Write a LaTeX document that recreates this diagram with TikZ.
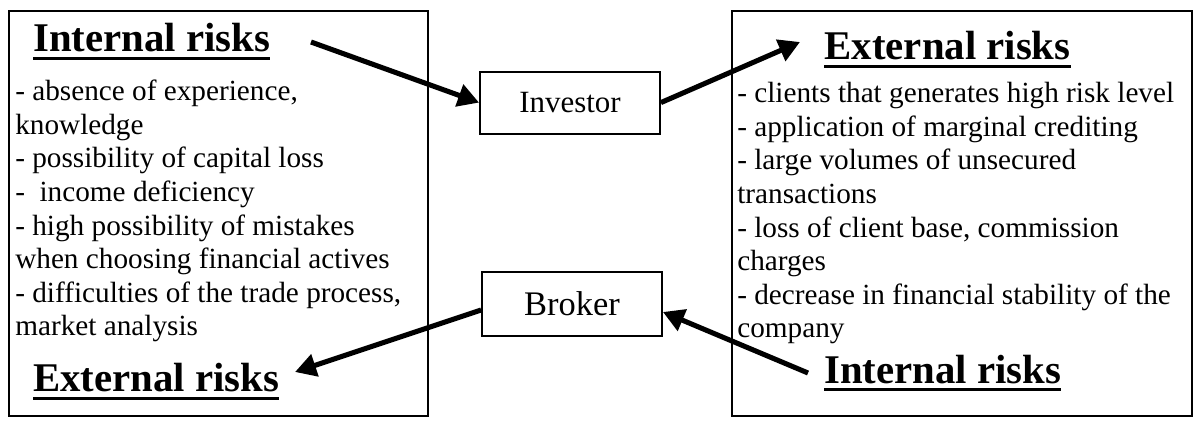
\documentclass[tikz,border=0pt]{standalone}
\usepackage{fontspec}
\setmainfont{Liberation Serif}
\usetikzlibrary{arrows.meta}
\tikzset{
  riskbox/.style={draw, line width=1.3pt},
  actor/.style={draw, line width=1.3pt, minimum width=4.5cm, minimum height=1.55cm},
  riskhead/.style={inner sep=0pt, anchor=base west, font=\fontsize{29}{34}\selectfont\bfseries},
  risklist/.style={inner sep=0pt, anchor=north west, align=left, font=\fontsize{20.8}{23.9}\selectfont},
  uline/.style={line width=2.2pt},
  link/.style={line width=3.6pt, -{Triangle[length=15pt,width=16pt]}}
}
\begin{document}
\begin{tikzpicture}
\useasboundingbox (0,0) rectangle (30,10.675);
\draw[riskbox] (0.225,0.275) rectangle (10.7,10.4);
\draw[riskbox] (18.3,0.275) rectangle (29.8,10.4);
\node[actor, font=\fontsize{22}{26}\selectfont] (inv) at (14.25,8.11) {Investor};
\node[actor, minimum height=1.6cm, font=\fontsize{24.5}{28}\selectfont] (brk) at (14.3,3.075) {Broker};
\node[riskhead] (intL) at (0.825,9.375) {Internal risks};
\node[riskhead] (extL) at (0.825,0.88) {External risks};
\node[riskhead] (extR) at (20.61,9.175) {External risks};
\node[riskhead] (intR) at (20.6,1.1) {Internal risks};
\foreach \t in {intL,extL,extR,intR}
  \draw[uline] ([yshift=-0.17cm]\t.base west) -- ([yshift=-0.17cm]\t.base east);
\node[risklist] (invlist) at (0.375,8.68) {- absence of experience,\\knowledge\\- possibility of capital loss\\-\ \ income deficiency\\- high possibility of mistakes\\when choosing financial actives\\- difficulties of the trade process,\\market analysis};
\node[risklist] (brklist) at (18.425,8.62) {- clients that generates high risk level\\- application of marginal crediting\\- large volumes of unsecured\\transactions\\- loss of client base, commission\\charges\\- decrease in financial stability of the\\company};
\coordinate (a1) at (7.775,9.625);
\coordinate (a2) at (20.0,9.625);
\coordinate (a3) at (7.375,1.375);
\coordinate (a4) at (20.2,1.35);
\draw[link] (a1) -- (inv.west);
\draw[link] (inv.east) -- (a2);
\draw[link] ([yshift=-0.15cm]brk.west) -- (a3);
\draw[link] (a4) -- ([yshift=-0.2cm]brk.east);
\end{tikzpicture}
\end{document}
